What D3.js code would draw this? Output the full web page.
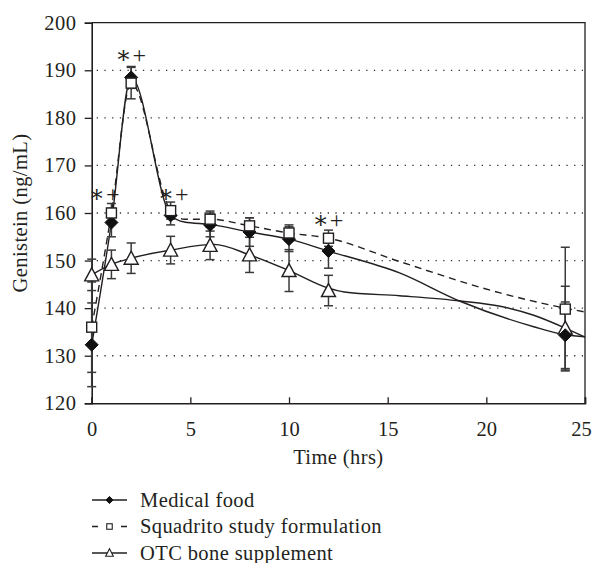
<!DOCTYPE html>
<html><head><meta charset="utf-8">
<script src="https://cdn.jsdelivr.net/npm/d3@7"></script>
<style>
body{margin:0;background:#fff;}
text{font-family:"Liberation Serif","DejaVu Serif",serif;fill:#231f20;}
</style></head>
<body><svg id="c" width="594" height="563"></svg>
<script>
const times = [0, 1, 2, 4, 6, 8, 10, 12, 24];
const medicalFood = [132.3, 158.0, 188.5, 159.5, 157.5, 156.0, 154.5, 152.0, 134.3];
const medicalErr  = [8.8, 3.0, 2.3, 2.0, 2.5, 3.0, 2.6, 3.6, 7.0];
const squadrito   = [136.0, 160.0, 187.3, 160.5, 158.7, 157.3, 155.8, 154.7, 139.8];
const squadritoErr= [9.5, 2.0, 3.3, 1.8, 1.7, 1.7, 1.7, 1.7, 13.0];
const otc         = [147.0, 149.2, 150.5, 152.2, 153.2, 151.2, 147.9, 143.7, 135.8];
const otcErr      = [3.3, 3.0, 3.2, 2.9, 3.0, 3.7, 4.4, 3.2, 8.8];

// fitted curve traces
const medicalCurve = [[0,132.3],[1,158],[2,188.5],[4,159.6],[4.7,158.1],[6,157.6],[8,156],[10,154.5],[12,152],[15.6,147.4],[18.7,141.4],[22.4,136.1],[24,134.4],[25,134]];
const squadritoCurve = [[0,136],[1,160],[2,187.3],[4,160.5],[4.7,158.7],[6,158.7],[8,157.3],[10,155.8],[12,154.7],[15.6,149.8],[20.7,143.2],[24,140],[25,139.2]];
const otcCurve = [[0,147],[1,149.2],[2,150.5],[4,152.2],[6.2,153.4],[8,151.2],[10,147.9],[12,144.2],[12.8,143.4],[15.6,142.6],[18.7,141.5],[20.7,140.4],[22.4,138.5],[24,135.8],[25,133.9]];

const xTicks = [0, 5, 10, 15, 20, 25];
const yTicks = [120, 130, 140, 150, 160, 170, 180, 190, 200];
const gridTicks = [130, 140, 150, 160, 170, 180, 190];
const sigMarks = [[0.65, 164.0], [2, 193.3], [4.15, 164.0], [12, 158.6]];
const legendLabels = ["Medical food", "Squadrito study formulation", "OTC bone supplement"];

const svg = d3.select("#c");
const x = d3.scaleLinear().domain([0, 25]).range([91.7, 585]);
const y = d3.scaleLinear().domain([120, 200]).range([403.3, 22.7]);
const ink = "#231f20";

// gridlines
svg.append("g").selectAll("line").data(gridTicks).join("line")
  .attr("x1", x(0) + 5).attr("x2", x(25) - 2)
  .attr("y1", d => y(d)).attr("y2", d => y(d))
  .attr("stroke", "#333").attr("stroke-width", 1.3)
  .attr("stroke-dasharray", "1.3,6.4");

// frame top/right
svg.append("path")
  .attr("d", `M${x(0)},${y(200)}H${x(25)}V${y(120)}`)
  .attr("fill", "none").attr("stroke", ink).attr("stroke-width", 1.3);

// axes
const yAxis = svg.append("g").attr("transform", `translate(${x(0)},0)`)
  .call(d3.axisLeft(y).tickValues(yTicks).tickSize(7).tickPadding(8).tickFormat(d3.format("d")));
const xAxis = svg.append("g").attr("transform", `translate(0,${y(120)})`)
  .call(d3.axisBottom(x).tickValues(xTicks).tickSize(-6).tickPadding(20).tickFormat(d3.format("d")));
[yAxis, xAxis].forEach(g => {
  g.select(".domain").attr("stroke", ink).attr("stroke-width", 1.6);
  g.selectAll(".tick line").attr("stroke", ink).attr("stroke-width", 1.3);
  g.selectAll(".tick text").attr("font-size", 20.5).attr("fill", ink)
   .style("font-family", '"Liberation Serif",serif');
});
yAxis.selectAll(".tick text").attr("letter-spacing", "0.6px");
xAxis.selectAll(".tick text").attr("dy", "0.62em")
  .attr("dx", d => d === 25 ? -4 : 0);

// axis titles
svg.append("text").attr("x", x(12.5)).attr("y", 464).attr("text-anchor", "middle")
  .attr("font-size", 20.5).attr("letter-spacing", "0.4px").text("Time (hrs)");
svg.append("text").attr("transform", `translate(27,${y(160)}) rotate(-90)`)
  .attr("text-anchor", "middle").attr("font-size", 20.5).attr("letter-spacing", "0.4px")
  .text("Genistein (ng/mL)");

const line = d3.line().x(d => x(d[0])).y(d => y(d[1])).curve(d3.curveMonotoneX);

const series = [
  {vals: medicalFood, err: medicalErr, curve: medicalCurve, dash: null, legendDash: null, marker: "diamond"},
  {vals: squadrito, err: squadritoErr, curve: squadritoCurve, dash: "7,5", legendDash: "6,23,6", marker: "square"},
  {vals: otc, err: otcErr, curve: otcCurve, dash: null, legendDash: null, marker: "triangle"}
];

// curves
series.forEach(s => {
  svg.append("path").datum(s.curve).attr("d", line)
    .attr("fill", "none").attr("stroke", ink).attr("stroke-width", 1.4)
    .attr("stroke-dasharray", s.dash);
});

// error bars
series.forEach(s => {
  const g = svg.append("g").attr("stroke", "#3a3a3a").attr("stroke-width", 1.5);
  times.forEach((t, i) => {
    const cx = x(t), hi = y(s.vals[i] + s.err[i]), lo = y(s.vals[i] - s.err[i]);
    g.append("line").attr("x1", cx).attr("x2", cx).attr("y1", hi).attr("y2", lo);
    g.append("line").attr("x1", cx - 4.5).attr("x2", cx + 4.5).attr("y1", hi).attr("y2", hi);
    g.append("line").attr("x1", cx - 4.5).attr("x2", cx + 4.5).attr("y1", lo).attr("y2", lo);
  });
});

function drawMarker(g, type, cx, cy, scale) {
  if (type === "diamond") {
    const r = 6.5 * scale;
    g.append("path").attr("d", `M${cx},${cy - r}L${cx + r},${cy}L${cx},${cy + r}L${cx - r},${cy}Z`)
      .attr("fill", "#111").attr("stroke", "#111").attr("stroke-width", 1);
  } else if (type === "square") {
    const h = 5 * scale;
    g.append("rect").attr("x", cx - h).attr("y", cy - h).attr("width", 2 * h).attr("height", 2 * h)
      .attr("fill", "#fff").attr("stroke", ink).attr("stroke-width", scale < 1 ? 1.1 : 1.4);
  } else {
    const w = 7 * scale, hh = 6 * scale;
    g.append("path").attr("d", `M${cx},${cy - hh - 1}L${cx + w},${cy + hh}L${cx - w},${cy + hh}Z`)
      .attr("fill", "#fff").attr("stroke", ink).attr("stroke-width", scale < 1 ? 1.1 : 1.4);
  }
}

// markers (triangle first, then diamond, then square on top)
[2, 0, 1].forEach(k => {
  const s = series[k];
  const g = svg.append("g");
  times.forEach((t, i) => drawMarker(g, s.marker, x(t), y(s.vals[i]), 1));
});

// significance marks
svg.append("g").selectAll("text").data(sigMarks).join("text")
  .attr("x", d => x(d[0])).attr("y", d => y(d[1]) + 8)
  .attr("text-anchor", "middle").attr("font-size", 24).attr("letter-spacing", "1px")
  .text("\u2217+");

// legend
const lg = svg.append("g");
legendLabels.forEach((lab, i) => {
  const cy = 500 + i * 26.5;
  const s = series[i];
  lg.append("line").attr("x1", 92).attr("x2", 127).attr("y1", cy).attr("y2", cy)
    .attr("stroke", ink).attr("stroke-width", 1.4)
    .attr("stroke-dasharray", s.legendDash);
  drawMarker(lg, s.marker, 109.5, cy, 0.55);
  lg.append("text").attr("x", 140).attr("y", cy).attr("dy", "0.33em")
    .attr("font-size", 20.5).attr("letter-spacing", "0.4px").text(lab);
});
</script></body></html>
